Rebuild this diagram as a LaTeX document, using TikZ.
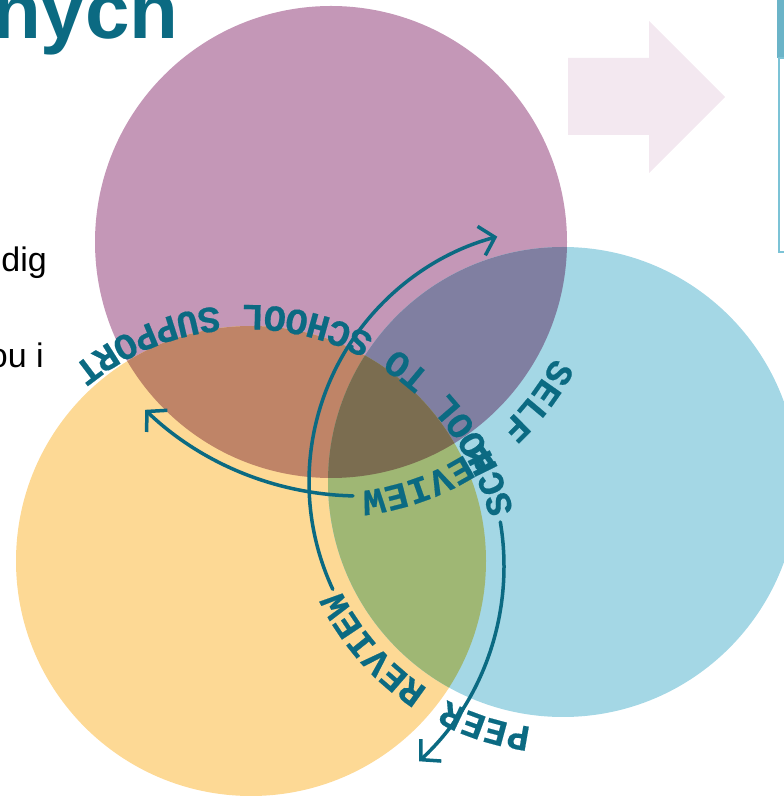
\documentclass[tikz,border=0pt]{standalone}
\usepackage{fontspec}
\setmainfont{Liberation Sans}
\setmonofont{Liberation Mono}
\newfontfamily\arcfont{Liberation Mono Bold}[FakeBold=0.4]
\usetikzlibrary{arrows.meta,decorations.text}
\definecolor{cP}{HTML}{C497B7}
\definecolor{cY}{HTML}{FDD995}
\definecolor{cB}{HTML}{A4D7E5}
\definecolor{cPY}{HTML}{BF8467}
\definecolor{cPB}{HTML}{807FA1}
\definecolor{cYB}{HTML}{9FB774}
\definecolor{cPYB}{HTML}{7B6D50}
\definecolor{teal}{HTML}{0B6A82}
\definecolor{pinkarrow}{HTML}{F3E8F0}
\definecolor{barblue}{HTML}{6BB4C8}
\definecolor{lineblue}{HTML}{7CC3D6}
\newcommand\arclblfont{\arcfont\fontsize{37}{37}\selectfont}
\begin{document}
\begin{tikzpicture}[x=1pt,y=1pt,
  cycarrow/.style={draw=teal,line width=3.5pt,line cap=round,
    -{Straight Barb[length=14pt,width=30pt,line width=3.5pt]}},
  arclabel/.style={decorate,decoration={text along path,
    text align=left,text color=teal,text={|\arclblfont|#1}}},
  arclabelfit/.style={decorate,decoration={text along path,
    text align={fit to path},text color=teal,text={|\arclblfont|#1}}},
  slidetext/.style={anchor=base east,inner sep=0pt,font=\fontsize{34}{34}\selectfont}]
\useasboundingbox (0,0) rectangle (784,796);
\clip (0,0) rectangle (784,796);
\def\Pcirc{(331,554) circle[radius=236pt]}
\def\Ycirc{(251,235) circle[radius=235pt]}
\def\Bcirc{(563,314) circle[radius=235pt]}
% background items
\fill[pinkarrow] (568,738) -- (649,738) -- (649,775) -- (725,699) -- (649,623) -- (649,661) -- (568,661) -- cycle;
\fill[barblue] (777,738) rectangle (784,796);
\draw[lineblue,line width=2pt] (784,738) -- (779,738) -- (779,544) -- (784,544);
\node[anchor=base east,text=teal,font=\bfseries\fontsize{80}{80}\selectfont,inner sep=0pt] (title) at (179,757) {nych};
\node[slidetext] (t1) at (47,524) {dig};
\node[slidetext] (t2) at (44,428) {ou i};
% circles
\fill[cP] \Pcirc;
\fill[cY] \Ycirc;
\fill[cB] \Bcirc;
\begin{scope}\clip \Pcirc; \fill[cPY] \Ycirc; \fill[cPB] \Bcirc; \end{scope}
\begin{scope}\clip \Ycirc; \fill[cYB] \Bcirc; \end{scope}
\begin{scope}\clip \Pcirc; \clip \Ycirc; \fill[cPYB] \Bcirc; \end{scope}
% arrows
\draw[cycarrow] (360,611) ++(-91.3:311pt) arc[start angle=-91.3,end angle=-133.7,radius=311pt];
\draw[cycarrow] (563,314) ++(-155:254pt) arc[start angle=-155,end angle=-255,radius=254pt];
\draw[cycarrow] (237,230) ++(9.5:267pt) arc[start angle=9.5,end angle=-47,radius=267pt];
% labels along arcs
\path[arclabel={SELF REVIEW}] (331,554) ++(-27.4:251pt) arc[start angle=-27.4,end angle=-95,radius=251pt];
\path[arclabel={PEER REVIEW}] (563,314) ++(-97.4:247pt) arc[start angle=-97.4,end angle=-165,radius=247pt];
\path[arclabelfit={SCHOOL TO SCHOOL SUPPORT}] (247,216) ++(14.4:275pt) arc[start angle=14.4,end angle=129.4,radius=275pt];
\end{tikzpicture}
\end{document}
